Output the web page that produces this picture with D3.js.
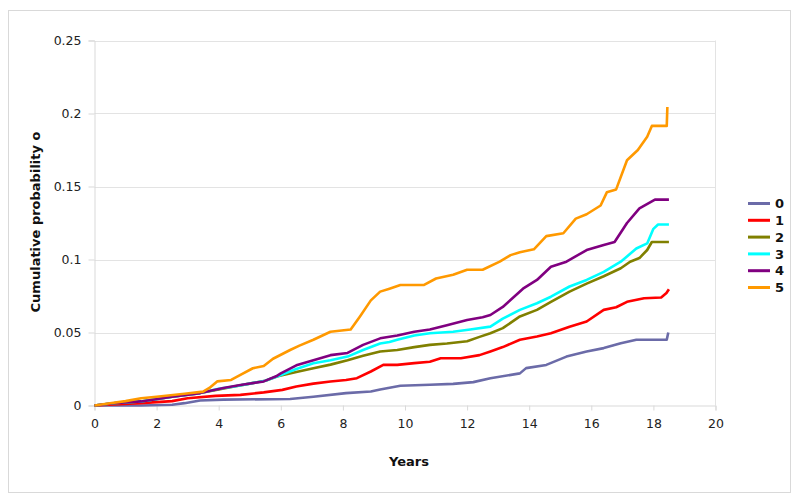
<!DOCTYPE html>
<html><head><meta charset="utf-8">
<script src="https://cdn.jsdelivr.net/npm/d3@7"></script>
<style>html,body{margin:0;padding:0;background:#fff;}svg{display:block;}</style>
</head><body>
<svg id="c" width="800" height="503"></svg>
<script>
const seriesNames = ["0","1","2","3","4","5"];
const seriesColors = ["#6b6ba8","#ff0000","#808000","#00ffff","#800080","#ff9900"];
const xTicks = [0,2,4,6,8,10,12,14,16,18,20];
const yTicks = [0,0.05,0.1,0.15,0.2,0.25];
const yTickLabels = ["0","0.05","0.1","0.15","0.2","0.25"];
const xTitle = "Years";
const yTitle = "Cumulative probability o";

const s0 = [[0,0],[1.5,0],[2.5,0.0005],[2.9,0.0016],[3.4,0.0034],[4.15,0.004],[6.3,0.0045],[7.05,0.006],[8.1,0.0085],[8.9,0.0096],[9.2,0.011],[9.85,0.0135],[10.8,0.0142],[11.55,0.0148],[12.2,0.016],[12.75,0.0187],[13.7,0.022],[13.9,0.0256],[14.55,0.0278],[15.2,0.0335],[15.85,0.037],[16.4,0.0393],[16.95,0.0427],[17.45,0.045],[18.43,0.045],[18.48,0.050]];
const s1 = [[0,0],[0.6,0.0007],[1.5,0.0016],[2.5,0.003],[3.0,0.005],[3.9,0.0066],[4.7,0.0073],[5.45,0.009],[6.05,0.0107],[6.5,0.013],[7.05,0.015],[7.6,0.0164],[8.1,0.0175],[8.45,0.0187],[8.9,0.0233],[9.3,0.0278],[9.75,0.0278],[10.3,0.029],[10.8,0.030],[11.15,0.0324],[11.8,0.0324],[12.4,0.0345],[12.75,0.037],[13.15,0.040],[13.7,0.045],[14.25,0.0472],[14.7,0.0495],[15.3,0.054],[15.85,0.0575],[16.4,0.0655],[16.8,0.0673],[17.15,0.071],[17.7,0.0735],[18.25,0.074],[18.42,0.077],[18.5,0.0796]];
const s2 = [[0,0],[0.6,0.0015],[1.5,0.0028],[2.5,0.006],[3.4,0.0085],[4.0,0.011],[4.5,0.013],[5.0,0.015],[5.5,0.017],[5.9,0.020],[6.5,0.023],[7.05,0.0255],[7.6,0.028],[8.15,0.031],[8.65,0.034],[9.2,0.037],[9.75,0.038],[10.3,0.040],[10.8,0.0415],[11.35,0.0425],[12,0.044],[12.4,0.047],[12.75,0.0495],[13.15,0.053],[13.7,0.061],[14.25,0.0655],[14.7,0.071],[15.3,0.078],[15.85,0.0835],[16.4,0.0885],[16.95,0.094],[17.25,0.0985],[17.55,0.101],[17.8,0.1065],[17.95,0.112],[18.5,0.112]];
const s3 = [[0,0],[0.6,0.0015],[1.5,0.0028],[2.5,0.006],[3.4,0.0085],[4.0,0.0115],[4.5,0.013],[5.0,0.015],[5.5,0.017],[5.9,0.020],[6.5,0.025],[7.05,0.029],[7.6,0.031],[8.15,0.0335],[8.65,0.038],[9.2,0.0425],[9.5,0.0435],[9.75,0.045],[10.3,0.048],[10.8,0.0495],[11.55,0.0505],[12.1,0.052],[12.75,0.054],[13.15,0.0595],[13.7,0.0655],[14.25,0.070],[14.7,0.0745],[15.3,0.0815],[15.85,0.086],[16.4,0.0915],[16.95,0.0985],[17.45,0.1075],[17.8,0.111],[18.0,0.121],[18.15,0.124],[18.5,0.124]];
const s4 = [[0,0],[0.6,0.0015],[1.5,0.0028],[2.5,0.006],[3.4,0.0085],[4.15,0.012],[4.7,0.014],[5.45,0.0165],[5.85,0.020],[6.0,0.022],[6.5,0.0275],[7.05,0.031],[7.6,0.0345],[8.15,0.036],[8.65,0.0415],[9.2,0.046],[9.75,0.048],[10.3,0.0505],[10.8,0.052],[11.35,0.055],[12,0.0585],[12.5,0.0605],[12.75,0.062],[13.15,0.0675],[13.8,0.080],[14.25,0.086],[14.7,0.095],[15.2,0.0985],[15.85,0.1065],[16.4,0.110],[16.75,0.112],[17.15,0.125],[17.55,0.135],[18.05,0.141],[18.5,0.141]];
const s5 = [[0,0],[0.5,0.0015],[1,0.003],[1.5,0.005],[2,0.006],[2.9,0.008],[3.5,0.0095],[3.7,0.012],[3.95,0.0165],[4.4,0.0175],[4.7,0.021],[5.1,0.0255],[5.45,0.027],[5.75,0.032],[6.3,0.038],[6.6,0.041],[7.05,0.045],[7.6,0.0505],[8.25,0.052],[8.55,0.061],[8.9,0.072],[9.2,0.078],[9.5,0.080],[9.85,0.0825],[10.6,0.0825],[11.0,0.087],[11.55,0.0895],[12,0.093],[12.5,0.093],[13.05,0.0985],[13.4,0.103],[13.7,0.105],[14.15,0.107],[14.55,0.116],[15.1,0.118],[15.5,0.128],[15.85,0.131],[16.3,0.137],[16.5,0.146],[16.8,0.148],[17.15,0.168],[17.5,0.175],[17.8,0.184],[17.95,0.1915],[18.43,0.1915],[18.45,0.2045]];
const allSeries = [s0,s1,s2,s3,s4,s5];

const svg = d3.select("#c");
const font = "'DejaVu Sans', Verdana, sans-serif";
const grid = "#e3e3e3";

// outer chart border
svg.append("rect").attr("x",8.5).attr("y",10.5).attr("width",782).attr("height",482)
  .attr("fill","#fff").attr("stroke","#d9d9d9").attr("stroke-width",1);

const x = d3.scaleLinear().domain([0,20]).range([94.5,715.5]);
const y = d3.scaleLinear().domain([0,0.25]).range([405.5,40.5]);

// horizontal gridlines
svg.append("g").selectAll("line").data(yTicks.slice(1)).join("line")
  .attr("x1",x(0)).attr("x2",x(20)).attr("y1",d=>Math.round(y(d))+0.5).attr("y2",d=>Math.round(y(d))+0.5)
  .attr("stroke",grid).attr("stroke-width",1);
// right border of plot area
svg.append("line").attr("x1",x(20)).attr("x2",x(20)).attr("y1",y(0.25)).attr("y2",y(0))
  .attr("stroke",grid);

// axes
const yAxis = d3.axisLeft(y).tickValues(yTicks).tickFormat((d,i)=>yTickLabels[i]).tickSize(6).tickPadding(7);
const gy = svg.append("g").attr("transform",`translate(${x(0)},0)`).call(yAxis);
const xAxis = d3.axisBottom(x).tickValues(xTicks).tickFormat(d3.format("d")).tickSize(5).tickPadding(9);
const gx = svg.append("g").attr("transform",`translate(0,${y(0)})`).call(xAxis);
[gx,gy].forEach(g=>{
  g.select(".domain").attr("stroke","#d9d9d9");
  g.selectAll(".tick line").attr("stroke","#d9d9d9");
  g.selectAll("text").attr("font-family",font).attr("font-size","12.5px").attr("fill","#222");
});

// lines
const line = d3.line().x(d=>x(d[0])).y(d=>y(d[1])).curve(d3.curveLinear);
svg.append("g").selectAll("path").data(allSeries).join("path")
  .attr("d",line).attr("fill","none")
  .attr("stroke",(d,i)=>seriesColors[i]).attr("stroke-width",2.6)
  .attr("stroke-linejoin","round");

// axis titles
svg.append("text").attr("x",409).attr("y",466).attr("text-anchor","middle")
  .attr("font-family",font).attr("font-weight","bold").attr("font-size","13px").attr("fill","#111").text(xTitle);
svg.append("text").attr("transform","translate(40,222) rotate(-90)").attr("text-anchor","middle")
  .attr("font-family",font).attr("font-weight","bold").attr("font-size","13px").attr("fill","#111").text(yTitle);

// legend
const lg = svg.append("g");
const ly = d3.scalePoint().domain(seriesNames).range([203.5,287.5]);
seriesNames.forEach((n,i)=>{
  lg.append("line").attr("x1",748).attr("x2",770).attr("y1",ly(n)).attr("y2",ly(n))
    .attr("stroke",seriesColors[i]).attr("stroke-width",3);
  lg.append("text").attr("x",775).attr("y",ly(n)).attr("dy","0.36em")
    .attr("font-family",font).attr("font-weight","bold").attr("font-size","13px").attr("fill","#111").text(n);
});
</script>
</body></html>
